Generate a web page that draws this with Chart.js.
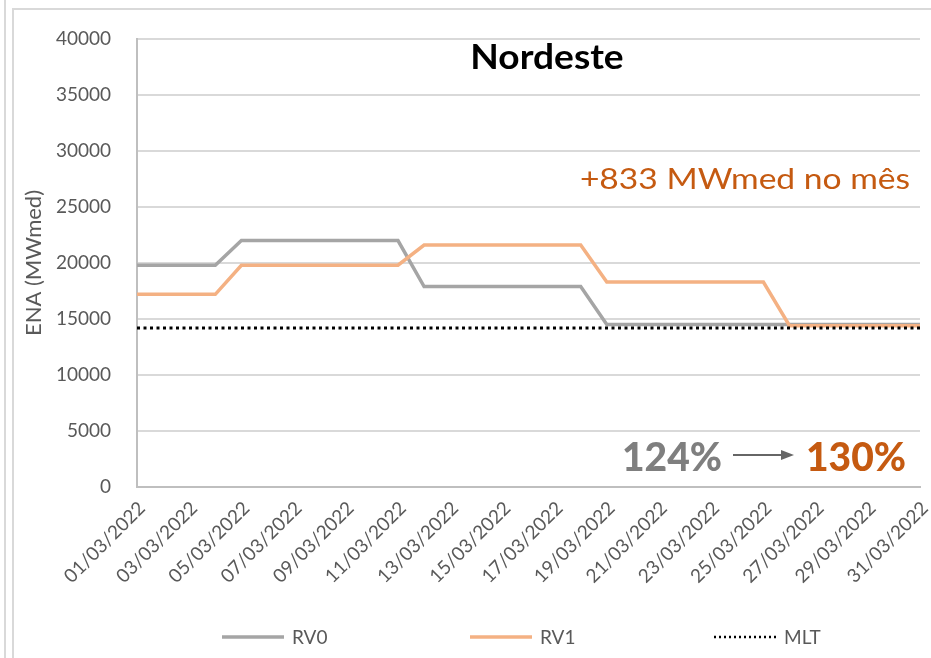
<!DOCTYPE html>
<html>
<head>
<meta charset="utf-8">
<script src="https://cdn.jsdelivr.net/npm/chart.js@4"></script>
<style>
  html, body { margin: 0; padding: 0; background: #fff; }
  #wrap { position: relative; width: 931px; height: 658px; overflow: hidden; font-family: Lato, sans-serif; }
  #chart { position: absolute; left: 0; top: 0; }
  .frame { position: absolute; background: #d9d9d9; }
  .txt { position: absolute; white-space: nowrap; line-height: 1; }
</style>
</head>
<body>
<div id="wrap">
  <div class="frame" style="left:4px;top:0;width:2px;height:658px"></div>
  <div class="frame" style="left:12px;top:8px;width:2px;height:650px"></div>
  <div class="frame" style="left:12px;top:8px;width:919px;height:2px"></div>
  <canvas id="chart" width="931" height="658"></canvas>

  <div class="txt" style="left:547px;top:55px;transform:translate(-50%,-50%) scaleX(1.06);font-weight:700;font-size:35px;color:#000">Nordeste</div>
  <div class="txt" style="left:745px;top:178px;transform:translate(-50%,-50%) scaleX(1.2);font-size:28px;color:#C55A11">+833 MWmed no mês</div>
  <div class="txt" style="left:672px;top:456px;transform:translate(-50%,-50%);font-weight:900;font-size:39px;color:#7F7F7F">124%</div>
  <svg style="position:absolute;left:731px;top:448px" width="66" height="14">
    <line x1="2" y1="7" x2="52" y2="7" stroke="#666" stroke-width="2"/>
    <polygon points="50,2 63,7 50,12" fill="#666"/>
  </svg>
  <div class="txt" style="left:856px;top:456px;transform:translate(-50%,-50%);font-weight:900;font-size:39px;color:#C55A11">130%</div>
</div>

<script>
// dias de março/2022
const dias = [
  '01/03/2022','02/03/2022','03/03/2022','04/03/2022','05/03/2022','06/03/2022','07/03/2022','08/03/2022',
  '09/03/2022','10/03/2022','11/03/2022','12/03/2022','13/03/2022','14/03/2022','15/03/2022','16/03/2022',
  '17/03/2022','18/03/2022','19/03/2022','20/03/2022','21/03/2022','22/03/2022','23/03/2022','24/03/2022',
  '25/03/2022','26/03/2022','27/03/2022','28/03/2022','29/03/2022','30/03/2022','31/03/2022'
];

const rv0 = [
  19800, 19800, 19800, 19800, 22000, 22000, 22000, 22000, 22000, 22000, 22000,
  17900, 17900, 17900, 17900, 17900, 17900, 17900,
  14500, 14500, 14500, 14500, 14500, 14500, 14500, 14500, 14500, 14500, 14500, 14500, 14500
];

const rv1 = [
  17200, 17200, 17200, 17200, 19800, 19800, 19800, 19800, 19800, 19800, 19800,
  21600, 21600, 21600, 21600, 21600, 21600, 21600,
  18300, 18300, 18300, 18300, 18300, 18300, 18300,
  14400, 14400, 14400, 14400, 14400, 14400
];

const mlt = [
  14200, 14200, 14200, 14200, 14200, 14200, 14200, 14200, 14200, 14200, 14200,
  14200, 14200, 14200, 14200, 14200, 14200, 14200, 14200, 14200, 14200, 14200,
  14200, 14200, 14200, 14200, 14200, 14200, 14200, 14200, 14200
];

const yTicks = [0, 5000, 10000, 15000, 20000, 25000, 30000, 35000, 40000];

const cinza = '#595959';

// legenda desenhada à mão, pra ficar espaçada como no original
const legendaLinhas = {
  id: 'legendaLinhas',
  afterDraw(chart, args, opts) {
    const ctx = chart.ctx;
    ctx.save();
    chart.data.datasets.forEach(function(ds, i) {
      const x = opts.starts[i];
      const y = opts.y;
      ctx.beginPath();
      ctx.strokeStyle = ds.borderColor;
      ctx.lineWidth = ds.borderDash ? 2.5 : ds.borderWidth;
      ctx.setLineDash(ds.borderDash ? [2, 3] : []);
      ctx.moveTo(x, y);
      ctx.lineTo(x + opts.len, y);
      ctx.stroke();
      ctx.setLineDash([]);
      ctx.fillStyle = cinza;
      ctx.font = '19px Lato';
      ctx.textBaseline = 'middle';
      ctx.fillText(ds.label, x + opts.len + 8, y + 1);
    });
    ctx.restore();
  }
};

const ctx = document.getElementById('chart').getContext('2d');
new Chart(ctx, {
  type: 'line',
  data: {
    labels: dias,
    datasets: [
      { label: 'RV0', data: rv0, borderColor: '#A5A5A5', borderWidth: 3.5, order: 3 },
      { label: 'RV1', data: rv1, borderColor: '#F4B183', borderWidth: 3.5, order: 2 },
      { label: 'MLT', data: mlt, borderColor: '#000000', borderWidth: 3, borderDash: [3, 3.5], order: 1 }
    ]
  },
  plugins: [legendaLinhas],
  options: {
    responsive: false,
    animation: false,
    elements: { point: { radius: 0 }, line: { tension: 0 } },
    layout: { padding: { left: 12, top: 39, right: 11, bottom: 60 } },
    plugins: {
      legend: { display: false },
      tooltip: { enabled: false },
      legendaLinhas: { starts: [222, 470, 714], y: 637, len: 62 }
    },
    scales: {
      x: {
        offset: false,
        grid: { display: false, drawTicks: false },
        border: { display: true, color: '#BFBFBF', width: 2 },
        ticks: {
          autoSkip: false,
          minRotation: 45,
          maxRotation: 45,
          padding: 10,
          labelOffset: 5,
          color: cinza,
          font: { family: 'Lato', size: 19 },
          callback: function(v, i) { return i % 2 === 0 ? dias[i] : ''; }
        },
        afterFit: function(s) { s.height = 111; s.paddingRight = 0; }
      },
      y: {
        min: 0,
        max: 40000,
        afterBuildTicks: function(s) { s.ticks = yTicks.map(function(v) { return { value: v }; }); },
        grid: { color: '#D9D9D9', lineWidth: 2, drawTicks: false },
        border: { display: true, color: '#BFBFBF', width: 2 },
        ticks: {
          padding: 26,
          color: cinza,
          font: { family: 'Lato', size: 19 },
          callback: function(v) { return String(v); }
        },
        title: {
          display: true,
          text: 'ENA (MWmed)',
          color: cinza,
          font: { family: 'Lato', size: 22 },
          padding: { top: 9, bottom: 0 }
        },
        afterFit: function(s) { s.width = 125; }
      }
    }
  }
});
</script>
</body>
</html>
